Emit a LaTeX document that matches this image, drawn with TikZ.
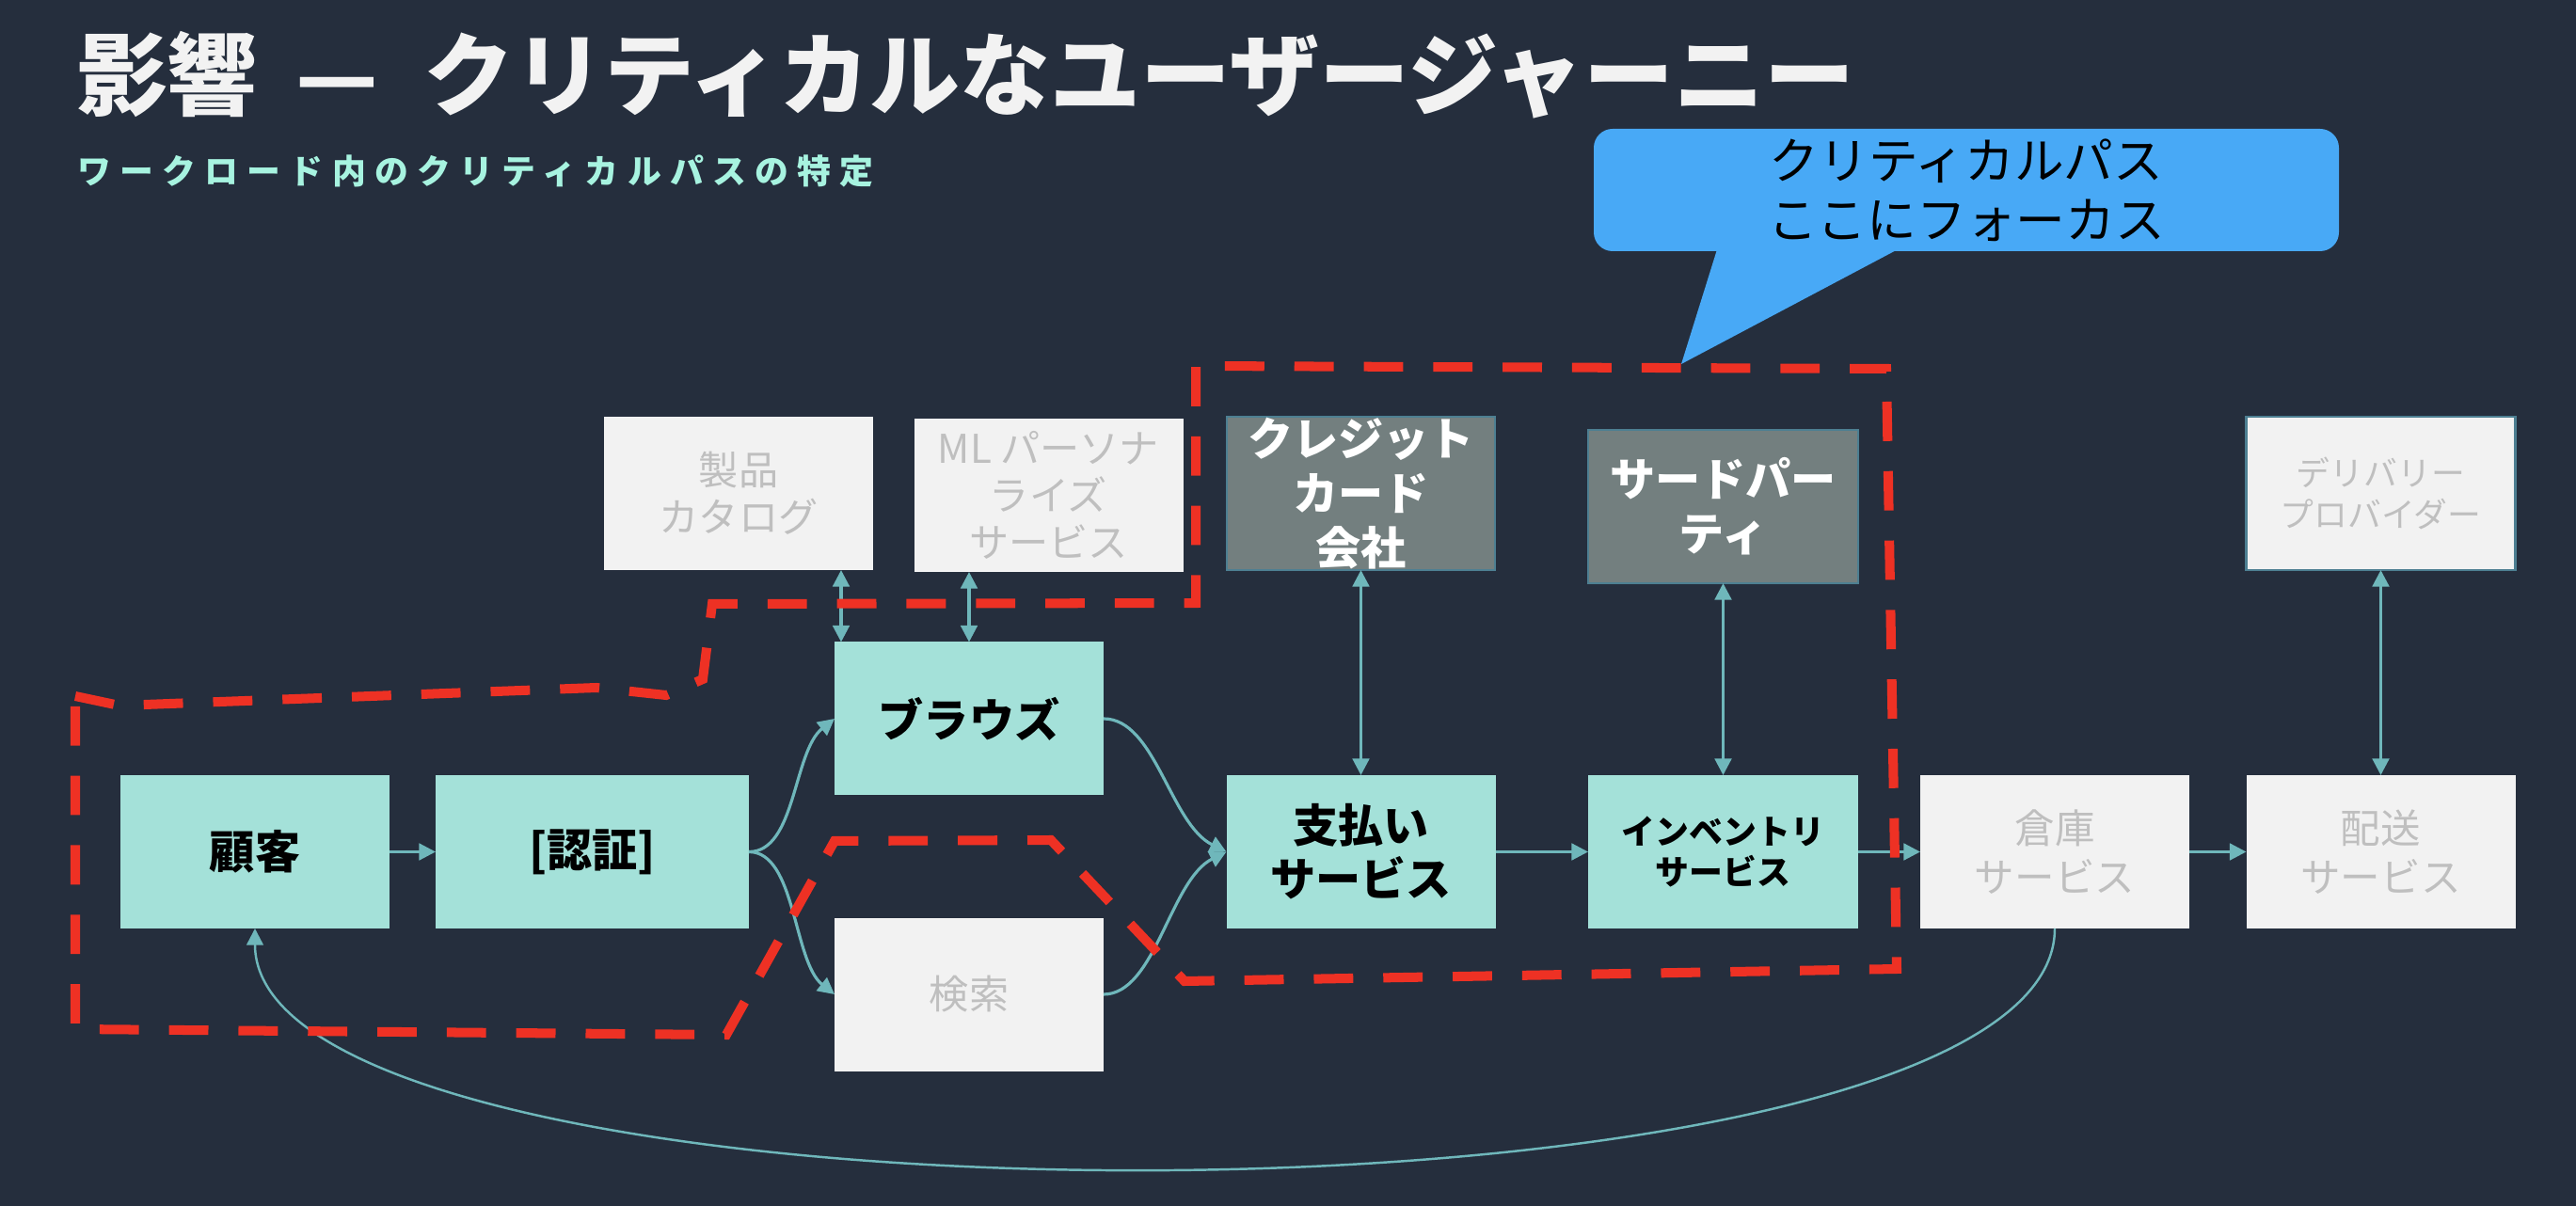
\documentclass[tikz,border=0pt]{standalone}
\usepackage{fontspec}
\setmainfont{Noto Sans CJK JP}
\usetikzlibrary{arrows.meta}
\definecolor{bgc}{HTML}{252E3D}
\definecolor{mint}{HTML}{A4E1D9}
\definecolor{paper}{HTML}{F2F2F2}
\definecolor{faded}{HTML}{BFBFBF}
\definecolor{slate}{HTML}{737F7F}
\definecolor{rim}{HTML}{4D7F92}
\definecolor{wire}{HTML}{6FB7BB}
\definecolor{zonec}{HTML}{EE3124}
\definecolor{bubble}{HTML}{48A9F6}
\definecolor{subc}{HTML}{A7F3E0}
\begin{document}
\begin{tikzpicture}[>={Triangle[length=5pt,width=5pt]},
  every node/.style={inner sep=0pt, outer sep=0pt, align=center},
  core/.style={fill=mint, minimum width=2.86cm, minimum height=1.63cm, font=\fontsize{13.7pt}{16.2pt}\selectfont\bfseries},
  idle/.style={fill=paper, text=faded, minimum width=2.86cm, minimum height=1.63cm, font=\fontsize{12pt}{14.2pt}\selectfont},
  vendor/.style={fill=slate, draw=rim, line width=0.6pt, text=white, minimum width=2.85cm, minimum height=1.63cm, font=\fontsize{13.7pt}{16.5pt}\selectfont\bfseries},
  wirel/.style={draw=wire, line width=0.9pt},
  zone/.style={draw=zonec, line width=2.85pt, dash pattern=on 11.9pt off 9.1pt}]
\useasboundingbox (0,0) rectangle (27.38,-12.82);
\fill[bgc] (0,0) rectangle (27.38,-12.82);
\node[anchor=west, text=paper, font=\fontsize{27.3pt}{32pt}\selectfont\bfseries] (title) at (0.82,-0.80) {影響\hspace{0.2em} — \hspace{0.27em}クリティカルなユーザージャーニー};
\node[anchor=west, text=subc, font=\fontsize{10.2pt}{12pt}\selectfont\bfseries\addfontfeatures{LetterSpace=26}] (subtitle) at (0.82,-1.82) {ワークロード内のクリティカルパスの特定};
\node[core] (customer) at (2.71,-9.055) {顧客};
\node[core, minimum width=3.33cm] (auth) at (6.295,-9.055) {[認証]};
\node[core] (browse) at (10.30,-7.64) {ブラウズ};
\node[idle] (search) at (10.30,-10.57) {検索};
\node[idle] (catalog) at (7.85,-5.245) {製品\\カタログ};
\node[idle] (personalize) at (11.145,-5.265) {ML パーソナ\\ライズ\\サービス};
\node[vendor] (card) at (14.465,-5.245) {クレジット\\カード\\会社};
\node[vendor, minimum width=2.87cm] (thirdparty) at (18.315,-5.385) {サードパー\\ティ};
\node[idle, draw=rim, line width=0.6pt, font=\fontsize{10.2pt}{12.5pt}\selectfont] (delivery) at (25.305,-5.245) {デリバリー\\プロバイダー};
\node[core] (payment) at (14.465,-9.055) {支払い\\サービス};
\node[core, minimum width=2.87cm, font=\fontsize{10.2pt}{12.5pt}\selectfont\bfseries] (inventory) at (18.315,-9.055) {インベントリ\\サービス};
\node[idle, font=\fontsize{12.1pt}{15pt}\selectfont] (warehouse) at (21.84,-9.055) {倉庫\\サービス};
\node[idle, font=\fontsize{12.1pt}{15pt}\selectfont] (shipping) at (25.305,-9.055) {配送\\サービス};
\coordinate (catalogport) at (8.94,-6.0);
\draw[wirel, ->] (customer) -- (auth);
\draw[wirel, ->] (auth.east) .. controls +(0.5,0) and +(-0.44,-0.35) .. (browse.west);
\draw[wirel, ->] (auth.east) .. controls +(0.5,0) and +(-0.44,0.35) .. (search.west);
\draw[wirel, ->] (browse.east) .. controls +(0.55,0) and +(-0.6,0.3) .. (payment.west);
\draw[wirel, ->] (search.east) .. controls +(0.55,0) and +(-0.6,-0.3) .. (payment.west);
\draw[wirel, ->] (payment) -- (inventory);
\draw[wirel, ->] (inventory) -- (warehouse);
\draw[wirel, ->] (warehouse) -- (shipping);
\draw[wirel, <->] (catalog.south -| catalogport) -- (browse.north -| catalogport);
\draw[wirel, <->] (personalize.south -| browse.north) -- (browse.north);
\draw[wirel, <->] (card) -- (payment);
\draw[wirel, <->] (thirdparty) -- (inventory);
\draw[wirel, <->] (delivery) -- (shipping);
\draw[wirel, line width=0.7pt, ->] (warehouse.south) .. controls +(0,-3.4) and +(0,-3.4) .. (customer.south);
\draw[zone] (0.80,-7.40) -- (1.27,-7.50) -- (6.34,-7.31) -- (7.08,-7.39) -- (7.47,-7.22) -- (7.57,-6.42) -- (12.71,-6.41) -- (12.71,-3.89) -- (20.05,-3.92) -- (20.16,-10.30) -- (12.59,-10.43) -- (11.17,-8.93) -- (8.87,-8.94) -- (7.72,-11.00) -- (0.80,-10.94) -- cycle;
\node[fill=bubble, rounded corners=0.2cm, minimum width=7.92cm, minimum height=1.30cm, font=\fontsize{15pt}{17.9pt}\selectfont] (focus) at (20.90,-2.02) {クリティカルパス\\ここにフォーカス};
\coordinate (focustip) at (17.87,-3.87);
\fill[bubble] ([xshift=1.32cm, yshift=0.05cm]focus.south west) -- (focustip) -- ([xshift=3.29cm, yshift=0.05cm]focus.south west) -- cycle;
\end{tikzpicture}
\end{document}
